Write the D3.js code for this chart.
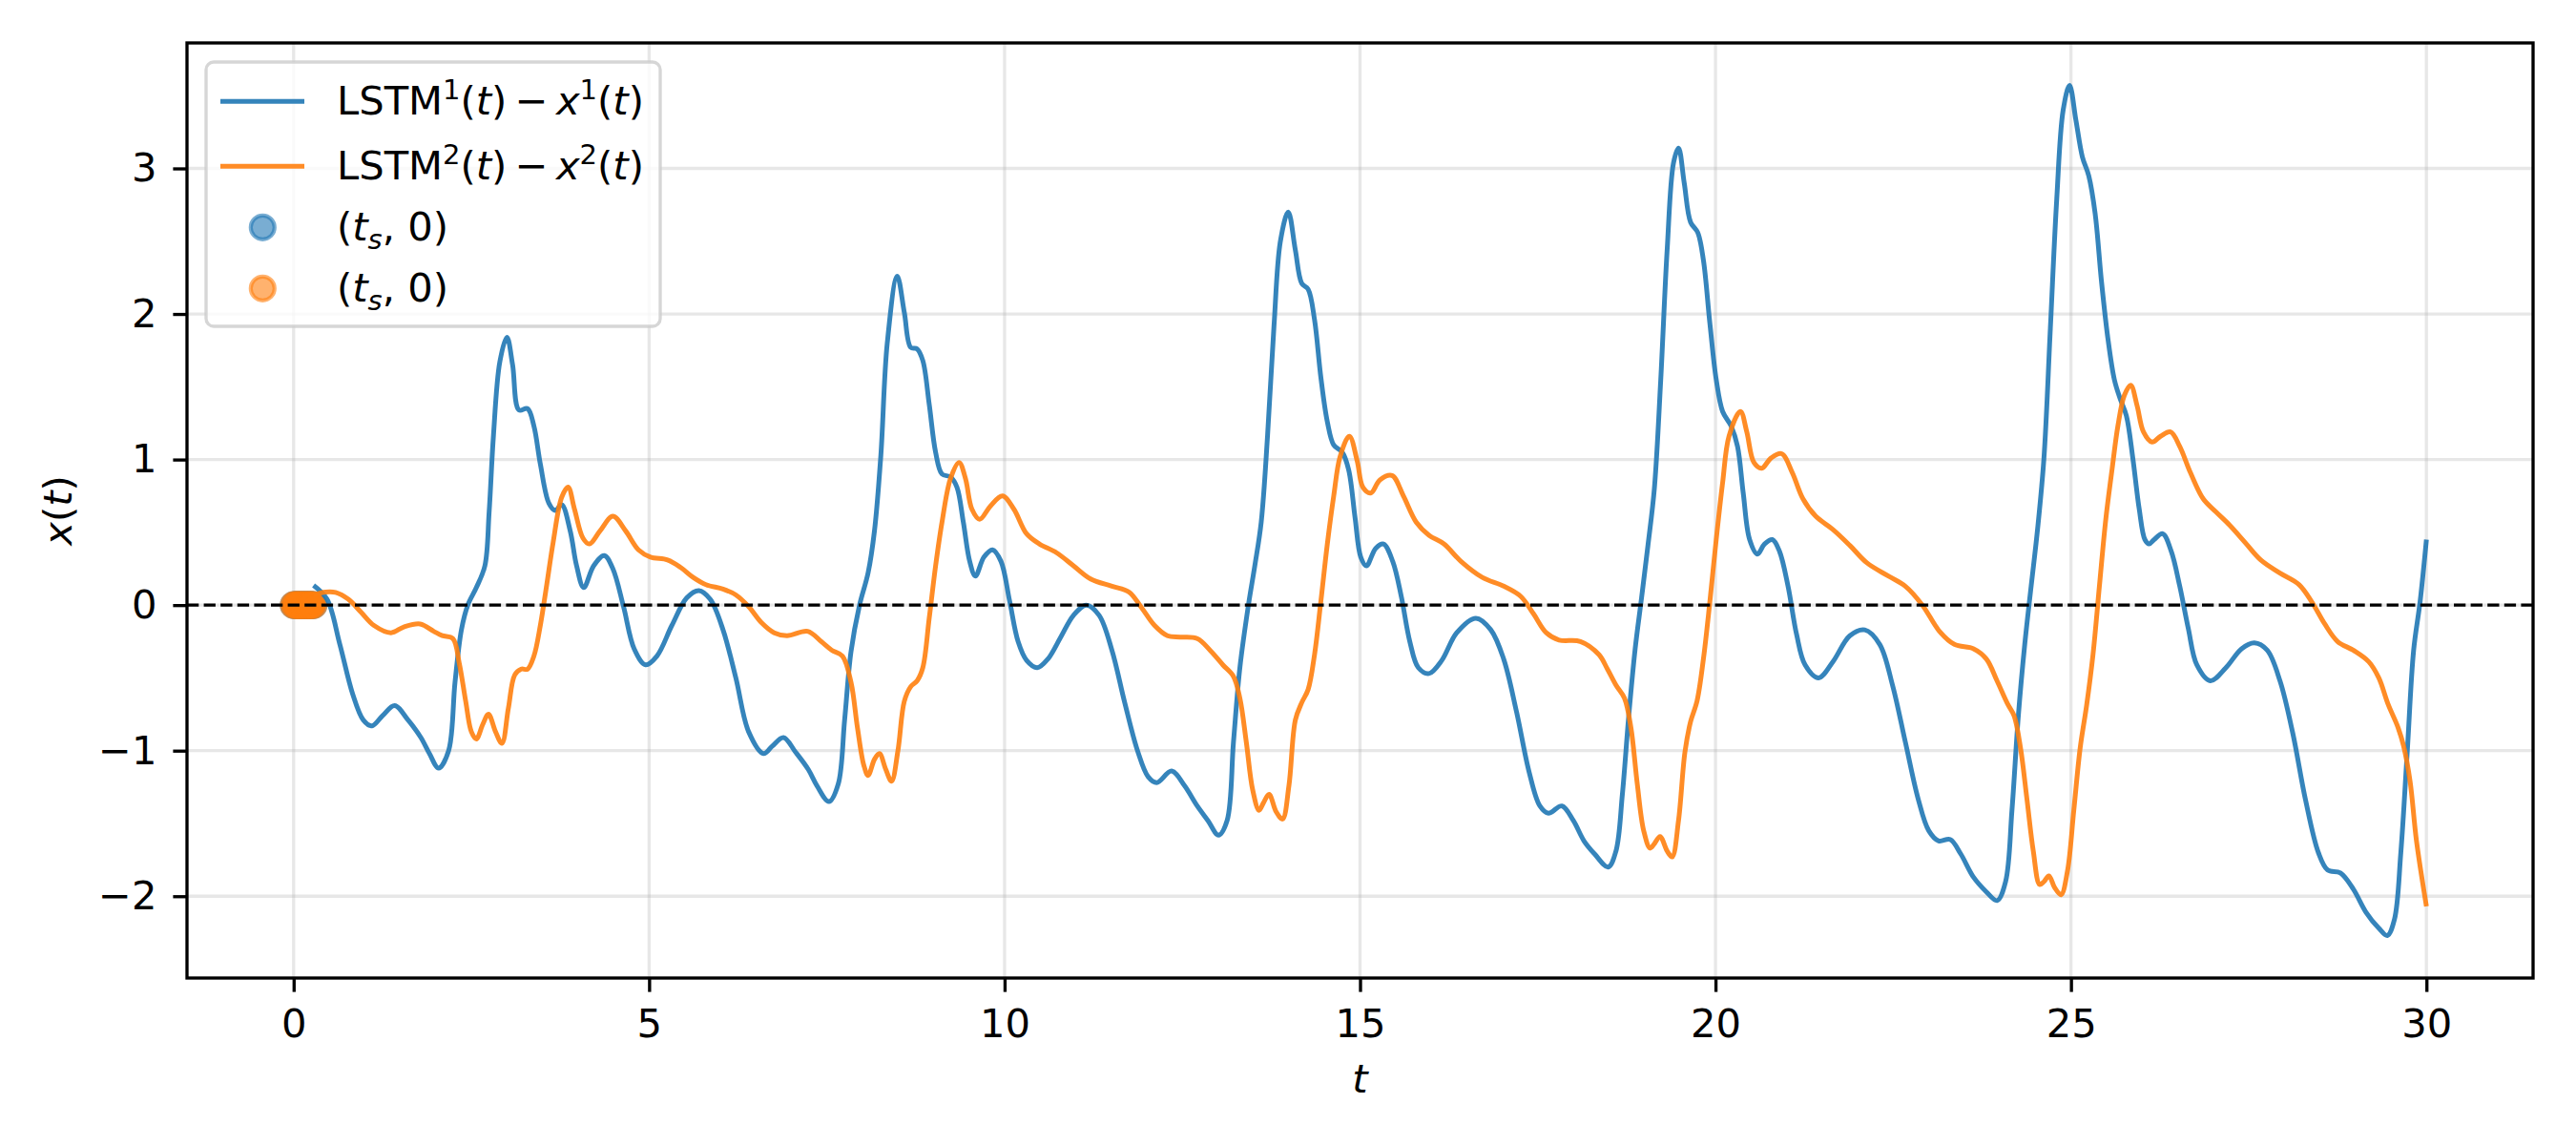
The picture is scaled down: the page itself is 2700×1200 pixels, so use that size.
<!DOCTYPE html>
<html><head><meta charset="utf-8">
<script src="https://cdn.jsdelivr.net/npm/d3@7"></script>
<style>
html,body{margin:0;padding:0;background:#fff;}
svg{display:block;}
text{font-family:"DejaVu Sans",sans-serif;}
</style></head>
<body>
<svg id="chart" width="2700" height="1200"></svg>
<script>
// ---------- data ----------
const blueT = [0.28,0.47,0.65,0.83,0.98,1.10,1.25,1.42,1.61,1.79,1.91,2.04,2.18,2.27,2.36,2.45,2.57,2.69,2.75,2.81,2.90,3.00,3.08,3.17,3.29,3.38,3.47,3.59,3.68,3.77,3.89,3.98,4.08,4.22,4.37,4.49,4.64,4.79,4.95,5.11,5.32,5.53,5.70,5.86,6.04,6.22,6.40,6.61,6.73,6.89,7.06,7.24,7.36,7.53,7.66,7.75,7.84,7.96,8.08,8.17,8.26,8.35,8.49,8.59,8.68,8.77,8.85,8.94,9.03,9.12,9.24,9.33,9.42,9.51,9.59,9.71,9.83,9.95,10.07,10.19,10.31,10.46,10.61,10.79,10.97,11.15,11.33,11.51,11.69,11.87,12.02,12.14,12.35,12.53,12.71,12.86,13.01,13.13,13.22,13.31,13.43,13.52,13.61,13.70,13.79,13.88,13.99,14.09,14.18,14.27,14.36,14.45,14.54,14.63,14.75,14.84,14.93,15.01,15.09,15.22,15.33,15.46,15.58,15.70,15.82,15.97,16.15,16.36,16.63,16.84,17.02,17.20,17.38,17.53,17.65,17.84,18.00,18.15,18.30,18.49,18.60,18.69,18.78,18.87,18.96,19.05,19.14,19.23,19.32,19.41,19.48,19.56,19.65,19.75,19.83,19.92,20.01,20.10,20.22,20.31,20.39,20.48,20.59,20.69,20.80,20.90,21.02,21.14,21.26,21.45,21.65,21.89,22.10,22.31,22.49,22.67,22.85,23.00,23.14,23.30,23.45,23.63,23.81,23.96,24.08,24.17,24.26,24.35,24.44,24.53,24.62,24.71,24.80,24.89,24.98,25.07,25.16,25.25,25.34,25.43,25.52,25.61,25.69,25.78,25.87,25.96,26.04,26.10,26.17,26.29,26.41,26.53,26.65,26.77,26.96,27.18,27.40,27.58,27.76,27.94,28.12,28.30,28.48,28.61,28.79,28.97,29.15,29.33,29.45,29.55,29.64,29.73,29.82,29.91,30.00];
const blueX = [0.136,0.04,-0.27,-0.61,-0.79,-0.83,-0.76,-0.69,-0.79,-0.91,-1.02,-1.12,-1.00,-0.53,-0.17,0.0,0.12,0.27,0.64,1.16,1.67,1.84,1.65,1.34,1.35,1.23,0.97,0.70,0.65,0.69,0.51,0.27,0.12,0.27,0.34,0.25,-0.01,-0.30,-0.41,-0.35,-0.14,0.05,0.10,0.04,-0.17,-0.50,-0.87,-1.02,-0.97,-0.91,-1.01,-1.13,-1.24,-1.35,-1.23,-0.79,-0.32,0.0,0.22,0.51,1.03,1.80,2.26,2.01,1.77,1.76,1.68,1.38,1.05,0.90,0.88,0.81,0.57,0.30,0.20,0.33,0.38,0.30,0.03,-0.25,-0.38,-0.43,-0.37,-0.22,-0.07,0.0,-0.07,-0.31,-0.67,-1.00,-1.18,-1.22,-1.14,-1.24,-1.38,-1.48,-1.58,-1.48,-0.94,-0.43,0.0,0.27,0.57,1.17,1.92,2.50,2.70,2.44,2.21,2.17,1.96,1.56,1.26,1.10,1.05,0.93,0.60,0.33,0.27,0.39,0.42,0.30,0.06,-0.25,-0.43,-0.47,-0.38,-0.19,-0.09,-0.17,-0.37,-0.73,-1.15,-1.38,-1.43,-1.38,-1.48,-1.62,-1.71,-1.80,-1.69,-1.30,-0.76,-0.30,0.05,0.41,0.80,1.55,2.44,3.04,3.14,2.90,2.63,2.56,2.37,1.94,1.55,1.33,1.23,1.09,0.77,0.45,0.35,0.42,0.45,0.37,0.13,-0.20,-0.41,-0.50,-0.39,-0.21,-0.17,-0.27,-0.55,-0.94,-1.33,-1.55,-1.62,-1.61,-1.71,-1.87,-1.97,-2.03,-1.90,-1.41,-0.76,-0.27,0.13,0.52,1.01,1.90,2.79,3.40,3.57,3.33,3.08,2.95,2.69,2.22,1.83,1.55,1.42,1.30,1.01,0.66,0.45,0.42,0.45,0.49,0.37,0.13,-0.16,-0.41,-0.52,-0.43,-0.30,-0.26,-0.31,-0.52,-0.88,-1.34,-1.70,-1.82,-1.84,-1.95,-2.11,-2.22,-2.27,-2.16,-1.70,-1.01,-0.31,0.02,0.45];

const orangeT = [0.28,0.45,0.59,0.77,0.95,1.13,1.37,1.55,1.78,1.97,2.09,2.24,2.33,2.42,2.50,2.57,2.66,2.74,2.84,2.93,3.02,3.11,3.20,3.29,3.38,3.47,3.56,3.65,3.77,3.86,3.95,4.07,4.16,4.31,4.49,4.67,4.85,5.02,5.26,5.44,5.62,5.80,6.04,6.22,6.40,6.58,6.76,6.94,7.23,7.42,7.57,7.72,7.84,7.93,8.02,8.08,8.17,8.24,8.33,8.41,8.50,8.59,8.68,8.77,8.85,8.94,9.03,9.12,9.24,9.36,9.45,9.54,9.65,9.80,9.97,10.13,10.31,10.49,10.73,10.97,11.21,11.51,11.75,11.93,12.11,12.29,12.47,12.71,12.89,13.07,13.22,13.31,13.40,13.49,13.58,13.64,13.72,13.82,13.91,14.00,14.09,14.18,14.27,14.36,14.45,14.54,14.63,14.72,14.85,14.96,15.04,15.15,15.28,15.45,15.61,15.79,15.97,16.18,16.42,16.72,17.02,17.26,17.44,17.62,17.80,18.10,18.36,18.48,18.60,18.72,18.81,18.90,18.99,19.08,19.14,19.22,19.32,19.39,19.48,19.57,19.65,19.74,19.83,19.92,20.01,20.10,20.19,20.35,20.44,20.54,20.65,20.78,20.93,21.08,21.23,21.41,21.65,21.89,22.13,22.43,22.67,22.91,23.15,23.36,23.63,23.81,23.96,24.11,24.20,24.29,24.38,24.47,24.56,24.62,24.69,24.77,24.86,24.95,25.04,25.13,25.22,25.31,25.40,25.49,25.58,25.66,25.75,25.84,25.93,26.02,26.14,26.26,26.40,26.53,26.68,26.86,27.04,27.23,27.45,27.67,27.94,28.21,28.39,28.57,28.75,28.97,29.19,29.33,29.46,29.60,29.68,29.77,29.86,30.00];
const orangeX = [0.07,0.09,0.087,0.04,-0.05,-0.14,-0.19,-0.15,-0.13,-0.18,-0.21,-0.23,-0.40,-0.66,-0.87,-0.92,-0.82,-0.75,-0.87,-0.95,-0.71,-0.48,-0.44,-0.44,-0.35,-0.14,0.14,0.43,0.74,0.81,0.66,0.46,0.42,0.51,0.61,0.51,0.38,0.33,0.31,0.26,0.19,0.14,0.11,0.07,-0.01,-0.12,-0.19,-0.21,-0.18,-0.25,-0.31,-0.35,-0.53,-0.84,-1.10,-1.17,-1.06,-1.02,-1.13,-1.21,-1.00,-0.66,-0.56,-0.52,-0.43,-0.09,0.27,0.57,0.87,0.98,0.87,0.66,0.59,0.68,0.75,0.66,0.49,0.42,0.36,0.27,0.18,0.13,0.09,-0.02,-0.14,-0.21,-0.22,-0.23,-0.31,-0.41,-0.49,-0.64,-0.94,-1.27,-1.41,-1.36,-1.30,-1.42,-1.47,-1.24,-0.79,-0.67,-0.58,-0.34,0.03,0.42,0.75,1.02,1.16,0.99,0.81,0.77,0.86,0.89,0.75,0.57,0.48,0.42,0.30,0.19,0.13,0.06,-0.06,-0.19,-0.24,-0.25,-0.34,-0.44,-0.55,-0.64,-0.84,-1.23,-1.55,-1.67,-1.64,-1.59,-1.69,-1.73,-1.48,-1.01,-0.80,-0.66,-0.37,0.02,0.45,0.84,1.16,1.33,1.19,0.98,0.94,1.01,1.04,0.91,0.73,0.61,0.52,0.41,0.29,0.20,0.13,0.0,-0.18,-0.27,-0.30,-0.37,-0.52,-0.68,-0.76,-0.98,-1.33,-1.69,-1.92,-1.90,-1.86,-1.94,-1.99,-1.83,-1.41,-0.98,-0.69,-0.34,0.13,0.59,0.94,1.23,1.44,1.51,1.37,1.19,1.12,1.16,1.19,1.09,0.91,0.73,0.64,0.55,0.43,0.31,0.22,0.14,0.02,-0.13,-0.25,-0.31,-0.39,-0.50,-0.68,-0.84,-0.97,-1.21,-1.62,-2.07];

const tsPoints = [0,0.02,0.04,0.06,0.08,0.10,0.12,0.14,0.16,0.18,0.20,0.22,0.24,0.26,0.28];
const xTicks = [0,5,10,15,20,25,30];
const yTicks = [-2,-1,0,1,2,3];

const BLUE = "#1f77b4", ORANGE = "#ff7f0e";
const FS = 41.67;

// ---------- layout ----------
const L = 196, R = 2655, T = 45, B = 1025;
const svg = d3.select("#chart");
svg.append("rect").attr("width",2700).attr("height",1200).attr("fill","#fff");

const allT = blueT.concat(orangeT, tsPoints);
const allV = blueX.concat(orangeX, [0]);
const tMin = d3.min(allT), tMax = d3.max(allT);
const vMin = d3.min(allV), vMax = d3.max(allV);
const tPad = 0.05*(tMax-tMin), vPad = 0.05*(vMax-vMin);
const x = d3.scaleLinear().domain([tMin - tPad, tMax + tPad]).range([L, R]);
const y = d3.scaleLinear().domain([vMin - vPad, vMax + vPad]).range([B, T]);

svg.append("defs").append("clipPath").attr("id","clip")
  .append("rect").attr("x",L).attr("y",T).attr("width",R-L).attr("height",B-T);

// grid
const grid = svg.append("g");
grid.selectAll(".gx").data(xTicks).join("line")
  .attr("x1",d=>x(d)).attr("x2",d=>x(d)).attr("y1",T).attr("y2",B)
  .attr("stroke","#b0b0b0").attr("stroke-opacity",0.3).attr("stroke-width",3.3);
grid.selectAll(".gy").data(yTicks).join("line")
  .attr("x1",L).attr("x2",R).attr("y1",d=>y(d)).attr("y2",d=>y(d))
  .attr("stroke","#b0b0b0").attr("stroke-opacity",0.3).attr("stroke-width",3.3);

const plot = svg.append("g").attr("clip-path","url(#clip)");
const line = d3.line().x(d=>x(d[0])).y(d=>y(d[1])).curve(d3.curveCatmullRom.alpha(0.5));

[BLUE, ORANGE].forEach(c => {
  plot.append("g").selectAll("circle").data(tsPoints).join("circle")
    .attr("cx", d=>x(d)).attr("cy", y(0)).attr("r", 12.5)
    .attr("fill", c).attr("fill-opacity",0.6)
    .attr("stroke", c).attr("stroke-opacity",0.6).attr("stroke-width",4.17);
});

plot.append("path").datum(d3.zip(blueT, blueX)).attr("d", line)
  .attr("fill","none").attr("stroke",BLUE).attr("stroke-width",5).attr("stroke-opacity",0.9)
  .attr("stroke-linejoin","round");
plot.append("path").datum(d3.zip(orangeT, orangeX)).attr("d", line)
  .attr("fill","none").attr("stroke",ORANGE).attr("stroke-width",5).attr("stroke-opacity",0.9)
  .attr("stroke-linejoin","round");

// zero line
plot.append("line").attr("x1",L).attr("x2",R).attr("y1",y(0)).attr("y2",y(0))
  .attr("stroke","#000").attr("stroke-width",3.4).attr("stroke-dasharray","12.3,5.3");

// axes
const xAxis = d3.axisBottom(x).tickValues(xTicks).tickSize(14.6).tickPadding(18).tickFormat(d3.format("d"));
const yAxis = d3.axisLeft(y).tickValues(yTicks).tickSize(14.6).tickPadding(17).tickFormat(d3.format("d"));
const gx = svg.append("g").attr("transform",`translate(0,${B})`).call(xAxis);
const gy = svg.append("g").attr("transform",`translate(${L},0)`).call(yAxis);
[gx, gy].forEach(g => {
  g.select(".domain").remove();
  g.selectAll(".tick line").attr("stroke","#000").attr("stroke-width",3.33);
  g.selectAll(".tick text").attr("fill","#000").style("font-size",FS+"px").style("font-family","DejaVu Sans");
});

// spines
svg.append("rect").attr("x",L).attr("y",T).attr("width",R-L).attr("height",B-T)
  .attr("fill","none").attr("stroke","#000").attr("stroke-width",3.33);

// axis labels
svg.append("text").attr("x",(L+R)/2).attr("y",1145).attr("text-anchor","middle")
  .style("font-size",FS+"px").style("font-style","italic").text("t");
const yl = svg.append("text").attr("transform",`translate(75,${(T+B)/2}) rotate(-90)`)
  .attr("text-anchor","middle").style("font-size",FS+"px");
yl.append("tspan").style("font-style","italic").text("x");
yl.append("tspan").text("(");
yl.append("tspan").style("font-style","italic").text("t");
yl.append("tspan").text(")");

// legend
const lg = svg.append("g");
lg.append("rect").attr("x",216).attr("y",65).attr("width",476).attr("height",277).attr("rx",8)
  .attr("fill","#fff").attr("fill-opacity",0.8).attr("stroke","#cccccc").attr("stroke-opacity",0.8).attr("stroke-width",3.33);

const legendLines = [{c:BLUE, y:106.3, sup:"1", base:120},{c:ORANGE, y:174.3, sup:"2", base:188}];
legendLines.forEach(o => {
  lg.append("line").attr("x1",231).attr("x2",319).attr("y1",o.y).attr("y2",o.y)
    .attr("stroke",o.c).attr("stroke-width",5).attr("stroke-opacity",0.9);
  const t = lg.append("text").attr("x",353).attr("y",o.base).style("font-size",FS+"px");
  t.append("tspan").text("LSTM");
  t.append("tspan").attr("dy",-16).style("font-size","29px").text(o.sup);
  t.append("tspan").attr("dy",16).text("(");
  t.append("tspan").style("font-style","italic").text("t");
  t.append("tspan").text(")\u2009\u2212\u2009");
  t.append("tspan").style("font-style","italic").text("x");
  t.append("tspan").attr("dy",-16).style("font-size","29px").text(o.sup);
  t.append("tspan").attr("dy",16).text("(");
  t.append("tspan").style("font-style","italic").text("t");
  t.append("tspan").text(")");
});
const legendDots = [{c:BLUE, y:238.3, base:252},{c:ORANGE, y:302.3, base:316}];
legendDots.forEach(o => {
  lg.append("circle").attr("cx",275.3).attr("cy",o.y).attr("r",12.5)
    .attr("fill",o.c).attr("fill-opacity",0.6).attr("stroke",o.c).attr("stroke-opacity",0.6).attr("stroke-width",4.17);
  const t = lg.append("text").attr("x",353).attr("y",o.base).style("font-size",FS+"px");
  t.append("tspan").text("(");
  t.append("tspan").style("font-style","italic").text("t");
  t.append("tspan").attr("dy",9).style("font-size","29px").style("font-style","italic").text("s");
  t.append("tspan").attr("dy",-9).text(", 0)");
});
</script>
</body></html>
